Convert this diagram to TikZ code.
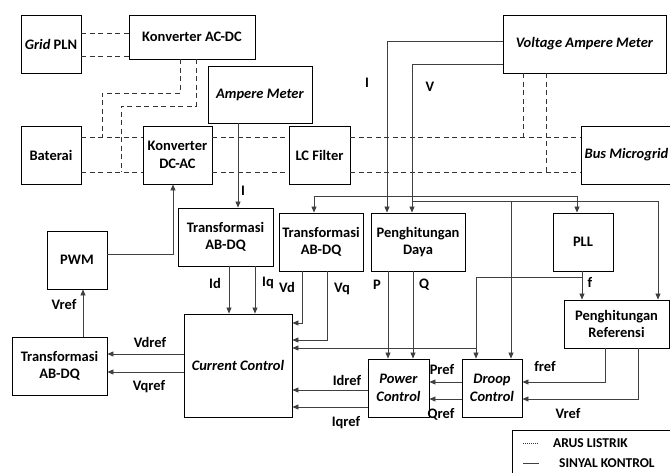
\documentclass[tikz,border=0pt]{standalone}
\usepackage{fontspec}
\setmainfont{Carlito}
\usetikzlibrary{arrows.meta,positioning}

\newcommand\teks{\bfseries\fontsize{14.5}{17.5}\selectfont}
\newcommand\legenda{\bfseries\fontsize{13.5}{15}\selectfont}

\tikzset{
  blok/.style 2 args={draw,line width=0.9pt,align=center,inner sep=1pt,
    minimum width=#1pt,minimum height=#2pt,font=\teks},
  arus/.style={draw=black!80,line width=0.8pt,dash pattern=on 5pt off 3.5pt},
  sinyal/.style={draw=black!75,line width=0.8pt},
  panah/.style={sinyal,-{Triangle[length=6pt,width=5pt]}},
  panahdua/.style={sinyal,{Triangle[length=6pt,width=5pt]}-{Triangle[length=6pt,width=5pt]}},
  lbl/.style={font=\teks,inner sep=0pt}
}

\begin{document}
\begin{tikzpicture}[x=1pt,y=-1pt]
  \useasboundingbox (0,0) rectangle (670,472);

  % blok daya
  \node[blok={60}{58}] (grid) at (51,44) {\textit{Grid} PLN};
  \node[blok={126}{44}] (acdc) at (192,37) {Konverter AC-DC};
  \node[blok={60}{58}] (bat) at (51,155) {Baterai};
  \node[blok={69}{58}] (dcac) at (177.5,155) {Konverter\\DC-AC};
  \node[blok={61}{58}] (lc) at (319.5,155) {LC Filter};
  \node[blok={91}{58}] (bus) at (626.5,155) {\textit{Bus Microgrid}};

  % alat ukur
  \node[blok={104}{57}] (am) at (260,94.5) {\textit{Ampere Meter}};
  \node[blok={163}{58}] (vam) at (584.5,44) {\textit{Voltage Ampere Meter}};

  % blok kontrol
  \node[blok={95}{58}] (trA) at (225.5,237) {Transformasi\\AB-DQ};
  \node[blok={84}{58}] (trB) at (321,242) {Transformasi\\AB-DQ};
  \node[blok={94}{58}] (pd) at (418,242) {Penghitungan\\Daya};
  \node[blok={60}{58}] (pll) at (583,242) {PLL};
  \node[blok={60}{58}] (pwm) at (77,260) {PWM};
  \node[blok={95}{58}] (trC) at (59.5,366) {Transformasi\\AB-DQ};
  \node[blok={108}{103}] (cc) at (238,365.5) {\textit{Current Control}};
  \node[blok={61}{58}] (pc) at (398.5,388) {\textit{Power}\\\textit{Control}};
  \node[blok={60}{58}] (dc) at (492,388) {\textit{Droop}\\\textit{Control}};
  \node[blok={105}{48}] (ref) at (616.5,324) {Penghitungan\\Referensi};

  % titik cabang
  \coordinate (jBat) at (102,137);
  \coordinate (jBat2) at (121,172);
  \coordinate (jBus) at (523,137);
  \coordinate (jBus2) at (546,172);
  \coordinate (jV) at (412,201);
  \coordinate (jDroop) at (511,201);
  \coordinate (jf) at (582,277);
  \coordinate (jf2) at (476,348);

  % arus listrik
  \draw[arus] (grid.east |- 0,33) -- (acdc.west |- 0,33);
  \draw[arus] (grid.east |- 0,56) -- (acdc.west |- 0,56);
  \draw[arus] (acdc.south -| 180,0) |- (102,93) -- (jBat);
  \draw[arus] (acdc.south -| 196,0) |- (121,106) -- (jBat2);
  \foreach \y in {137,172} {
    \draw[arus] (bat.east |- 0,\y) -- (dcac.west |- 0,\y);
    \draw[arus] (dcac.east |- 0,\y) -- (lc.west |- 0,\y);
    \draw[arus] (lc.east |- 0,\y) -- (bus.west |- 0,\y);
  }
  \draw[arus] (vam.south -| jBus) -- (jBus);
  \draw[arus] (vam.south -| jBus2) -- (jBus2);

  % sinyal kontrol
  \draw[panah] (am.south -| 238,0) -- (trA.north -| 238,0);
  \draw[panah] (pwm.east |- 0,254) -| (dcac.south -| 173,0);
  \draw[panah] (trC.north -| 83,0) -- (pwm.south -| 83,0);
  \draw[panah] (cc.west |- 0,354) -- (trC.east |- 0,354);
  \draw[panah] (cc.west |- 0,372) -- (trC.east |- 0,372);
  \draw[panah] (trA.south -| 229,0) -- (cc.north -| 229,0);
  \draw[panah] (trA.south -| 255,0) -- (cc.north -| 255,0);
  \draw[panah] (trB.south -| 302,0) |- (cc.east |- 0,323);
  \draw[panah] (trB.south -| 327,0) |- (cc.east |- 0,340);
  \draw[panah] (vam.west |- 0,41) -| (pd.north -| 387,0);
  \draw[panah] (vam.west |- 0,64) -| (pd.north -| jV);
  \draw[panahdua] (trB.north -| 314,0) |- (577,196) -- (pll.north -| 577,0);
  \draw[panah] (jV) -| (ref.north -| 658,0);
  \draw[panah] (jDroop) -- (dc.north -| jDroop);
  \draw[panah] (pll.south -| jf) -- (ref.north -| jf);
  \draw[panah] (jf) -| (dc.north -| jf2);
  \draw[panah] (jf2) -- (cc.east |- jf2);
  \draw[panah] (pd.south -| 388,0) -- (pc.north -| 388,0);
  \draw[panah] (pd.south -| 413,0) -- (pc.north -| 413,0);
  \draw[panah] (dc.west |- 0,382) -- (pc.east |- 0,382);
  \draw[panah] (dc.west |- 0,399) -- (pc.east |- 0,399);
  \draw[panah] (pc.west |- 0,390) -- (cc.east |- 0,390);
  \draw[panah] (pc.west |- 0,407) -- (cc.east |- 0,407);
  \draw[panah] (ref.south -| 605,0) |- (dc.east |- 0,382);
  \draw[panah] (ref.south -| 638,0) |- (dc.east |- 0,399);

  % label sinyal
  \node[lbl] (lI) at (243,191) {I};
  \node[lbl] (lIv) at (367,83) {I};
  \node[lbl] (lV) at (430,87) {V};
  \node[lbl] (lId) at (215,283) {Id};
  \node[lbl] (lIq) at (268,283) {Iq};
  \node[lbl] (lVd) at (287,287) {Vd};
  \node[lbl] (lVq) at (342,289) {Vq};
  \node[lbl] (lP) at (377,285) {P};
  \node[lbl] (lQ) at (424,285) {Q};
  \node[lbl] (lf) at (590,282) {f};
  \node[lbl] (lVref) at (64,305) {Vref};
  \node[lbl] (lVdref) at (150,342) {Vdref};
  \node[lbl] (lVqref) at (149,387) {Vqref};
  \node[lbl] (lIdref) at (347,380) {Idref};
  \node[lbl] (lIqref) at (346,423) {Iqref};
  \node[lbl] (lPref) at (442,370) {Pref};
  \node[lbl] (lQref) at (441,414) {Qref};
  \node[lbl] (lfref) at (545,367) {fref};
  \node[lbl] (lVref2) at (568,414) {Vref};

  % legenda
  \draw[line width=0.9pt] (512,430) rectangle (700,500);
  \draw[black!80,line width=0.6pt,dash pattern=on 1pt off 1pt] (523,443) -- (539,443);
  \draw[sinyal] (523,463) -- (539,463);
  \node[lbl,anchor=west,font=\legenda] (lgArus) at (553,443) {ARUS LISTRIK};
  \node[lbl,anchor=west,font=\legenda] (lgSinyal) at (559,463) {SINYAL KONTROL};
\end{tikzpicture}
\end{document}
